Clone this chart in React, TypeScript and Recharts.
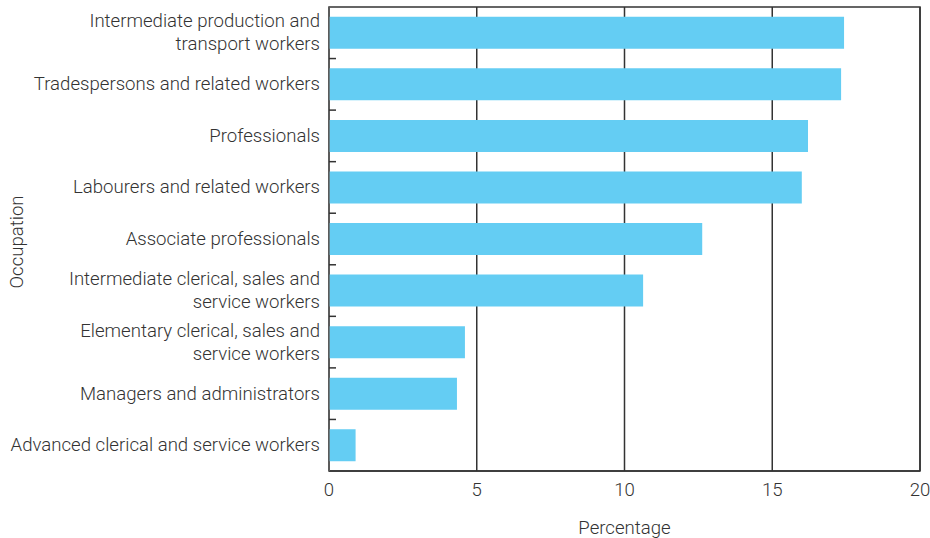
import React from 'react';
import { BarChart, Bar, XAxis, YAxis, CartesianGrid, ReferenceArea } from 'recharts';

const categories = [
  'Intermediate production and|transport workers',
  'Tradespersons and related workers',
  'Professionals',
  'Labourers and related workers',
  'Associate professionals',
  'Intermediate clerical, sales and|service workers',
  'Elementary clerical, sales and|service workers',
  'Managers and administrators',
  'Advanced clerical and service workers',
];
const percentages = [17.43, 17.33, 16.21, 16.0, 12.63, 10.63, 4.6, 4.33, 0.9];
const xTicks = [0, 5, 10, 15, 20];

const data = categories.map((c, i) => ({ name: c, value: percentages[i] }));

const FONT = 'Roboto, "Liberation Sans", sans-serif';
const TEXT = '#333333';
const FS = 18.6;
const FW = 300;

const YTick = (props: any) => {
  const { y, payload, index } = props;
  const lines: string[] = String(payload.value).split('|');
  const lh = 23;
  const startDy = -((lines.length - 1) * lh) / 2;
  const half = payload.offset || 0;
  const axisX = 329;
  return (
    <g>
      <text x={320} y={y} textAnchor="end" fontFamily={FONT} fontSize={FS} fontWeight={FW} fill={TEXT} dominantBaseline="central">
        {lines.map((l, i) => (
          <tspan key={i} x={320} dy={i === 0 ? startDy : lh}>{l}</tspan>
        ))}
      </text>
      {index < categories.length - 1 && (
        <line x1={axisX} x2={axisX + 7} y1={y + half} y2={y + half} stroke="#333" strokeWidth={1.5} />
      )}
    </g>
  );
};

export default function App() {
  return (
    <div style={{ position: 'absolute', left: 0, top: 0, width: 930, height: 538, background: '#fff' }}>
      <BarChart
        width={930}
        height={538}
        data={data}
        layout="vertical"
        margin={{ top: 7, right: 10, left: 0, bottom: 0 }}
        barCategoryGap="19%"
      >
        <CartesianGrid horizontal={false} vertical stroke="#333" strokeWidth={1.5} />
        <XAxis
          type="number"
          domain={[0, 20]}
          ticks={xTicks}
          tickLine={false}
          axisLine={{ stroke: '#333', strokeWidth: 1.5 }}
          height={67}
          tick={{ fontFamily: FONT, fontSize: FS, fontWeight: FW, fill: TEXT }}
          tickMargin={6}
          label={{ value: 'Percentage', position: 'insideBottom', offset: 4, style: { fontFamily: FONT, fontSize: FS, fontWeight: FW, fill: TEXT } }}
        />
        <YAxis
          type="category"
          dataKey="name"
          width={329}
          tickLine={false}
          axisLine={{ stroke: '#666', strokeWidth: 1.5 }}
          tick={<YTick />}
          interval={0}
          label={{ value: 'Occupation', angle: -90, position: 'insideLeft', offset: 16, dy: 3, style: { fontFamily: FONT, fontSize: FS, fontWeight: FW, fill: TEXT, textAnchor: 'middle' } }}
        />
        <ReferenceArea x1={0} x2={20} fill="none" stroke="#333" strokeWidth={1.5} ifOverflow="visible" />
        <Bar dataKey="value" fill="#64CDF3" isAnimationActive={false} />
      </BarChart>
    </div>
  );
}
